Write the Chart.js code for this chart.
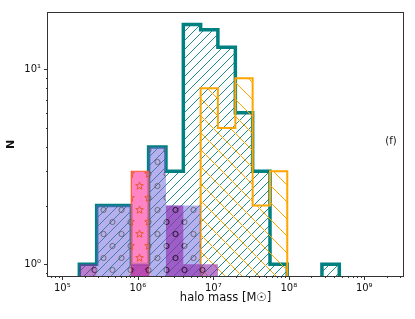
<!DOCTYPE html>
<html>
<head>
<meta charset="utf-8">
<script src="https://cdn.jsdelivr.net/npm/chart.js@4.4.0/dist/chart.umd.min.js"></script>
<style>
html, body { margin: 0; padding: 0; background: #fff; }
</style>
</head>
<body>
<canvas id="histChart" width="415" height="319"></canvas>
<script>
// Data: bin edges (halo mass, Msun) and counts per bin
const binEdges = [1.68e5, 2.85e5, 4.83e5, 8.2e5, 1.39e6, 2.36e6, 4.01e6, 6.8e6, 1.15e7, 1.96e7, 3.32e7, 5.64e7, 9.55e7, 1.62e8, 2.75e8, 4.67e8];
const countsTeal     = [1, 2, 2, 1, 4, 3, 17, 16, 13, 6, 3, 1, 0, 0, 1];
const countsOrange   = [0, 0, 0, 0, 0, 0, 0, 8, 5, 9, 2, 3, 0, 0, 0];
const countsPink     = [0, 0, 0, 3, 0, 0, 0, 0, 0, 0, 0, 0, 0, 0, 0];
const countsLavender = [0, 2, 2, 0, 4, 2, 2, 0, 0, 0, 0, 0, 0, 0, 0];
const countsPurple   = [1, 0, 0, 1, 0, 2, 1, 1, 0, 0, 0, 0, 0, 0, 0];
const xMajorTicks = [1e5, 1e6, 1e7, 1e8, 1e9];
const yMajorTicks = [1, 10];

const floorN = 0.5; // below the axis, used for empty bins

// build step outline points from edges + counts
function stepPoints(edges, counts) {
  const pts = [{x: edges[0], y: floorN}];
  counts.forEach((c, i) => {
    const v = c > 0 ? c : floorN;
    pts.push({x: edges[i], y: v});
    pts.push({x: edges[i + 1], y: v});
  });
  pts.push({x: edges[edges.length - 1], y: floorN});
  return pts;
}

// hatch patterns
function lineHatch(color, step, back, fill) {
  const c = document.createElement('canvas');
  c.width = step; c.height = step;
  const g = c.getContext('2d');
  if (fill) { g.fillStyle = fill; g.fillRect(0, 0, step, step); }
  g.strokeStyle = color; g.lineWidth = 1;
  g.beginPath();
  for (let k = -1; k <= 1; k++) {
    if (back) { g.moveTo(k * step, 0); g.lineTo(k * step + step, step); }
    else { g.moveTo(k * step, step); g.lineTo(k * step + step, 0); }
  }
  g.stroke();
  return g.createPattern(c, 'repeat');
}

function star(g, cx, cy, r) {
  g.beginPath();
  for (let i = 0; i < 10; i++) {
    const rr = i % 2 === 0 ? r : r * 0.42;
    const a = -Math.PI / 2 + i * Math.PI / 5;
    const px = cx + rr * Math.cos(a), py = cy + rr * Math.sin(a);
    if (i === 0) g.moveTo(px, py); else g.lineTo(px, py);
  }
  g.closePath();
  g.stroke();
}

function markHatch(fill, markColor, kind) {
  const w = 18, h = 24;
  const c = document.createElement('canvas');
  c.width = w; c.height = h;
  const g = c.getContext('2d');
  g.fillStyle = fill; g.fillRect(0, 0, w, h);
  g.strokeStyle = markColor; g.lineWidth = 1;
  [[4.5, 6], [13.5, 18]].forEach(([cx, cy]) => {
    if (kind === 'star') star(g, cx, cy, 4);
    else { g.beginPath(); g.arc(cx, cy, 2.6, 0, Math.PI * 2); g.stroke(); }
  });
  return g.createPattern(c, 'repeat');
}

const sup = {'-1': '⁻¹', 0: '⁰', 1: '¹', 4: '⁴', 5: '⁵', 6: '⁶', 7: '⁷', 8: '⁸', 9: '⁹'};
const powLabel = v => '10' + sup[Math.round(Math.log10(v))];

// frame, minor ticks and panel label
const framePlugin = {
  id: 'frame',
  afterDraw(chart) {
    const {ctx, chartArea: a, scales: {x, y}} = chart;
    ctx.save();
    ctx.strokeStyle = '#333';
    ctx.lineWidth = 1;
    ctx.strokeRect(Math.round(a.left) - 0.5, Math.round(a.top) - 0.5,
      Math.round(a.right - a.left) + 1, Math.round(a.bottom - a.top) + 1);
    ctx.beginPath();
    for (let n = 4; n <= 9; n++) {
      for (let k = 1; k <= 9; k++) {
        const v = k * Math.pow(10, n);
        if (v < x.min || v > x.max) continue;
        const px = Math.round(x.getPixelForValue(v)) + 0.5;
        const len = k === 1 ? 4 : 2;
        ctx.moveTo(px, a.bottom); ctx.lineTo(px, a.bottom + len);
      }
    }
    for (let n = -1; n <= 1; n++) {
      for (let k = 1; k <= 9; k++) {
        const v = k * Math.pow(10, n);
        if (v < y.min || v > y.max) continue;
        const py = Math.round(y.getPixelForValue(v)) + 0.5;
        const len = k === 1 ? 4 : 2;
        ctx.moveTo(a.left, py); ctx.lineTo(a.left - len, py);
      }
    }
    ctx.stroke();
    ctx.fillStyle = '#111';
    ctx.font = '10px "DejaVu Sans"';
    ctx.textAlign = 'center';
    ctx.textBaseline = 'middle';
    ctx.fillText('(f)', 391, 141);
    ctx.restore();
  }
};

const teal = '#008080';
const orange = '#ffa500';

const ctx = document.getElementById('histChart').getContext('2d');
const histChart = new Chart(ctx, {
  type: 'line',
  data: {
    datasets: [
      {
        label: 'teal',
        data: stepPoints(binEdges, countsTeal),
        borderColor: teal,
        borderWidth: 3.5,
        backgroundColor: lineHatch('#1f8c8c', 9, false, null),
        fill: 'start',
        order: 6
      },
      {
        label: 'orange',
        data: stepPoints(binEdges, countsOrange),
        borderColor: orange,
        borderWidth: 2,
        backgroundColor: lineHatch(orange, 17, true, null),
        fill: 'start',
        order: 5
      },
      {
        label: 'pink',
        data: stepPoints(binEdges, countsPink),
        borderColor: '#ff5a28',
        borderWidth: 1.2,
        backgroundColor: markHatch('rgba(255,110,185,0.85)', '#e8552e', 'star'),
        fill: 'start',
        order: 4
      },
      {
        label: 'lavender',
        data: stepPoints(binEdges, countsLavender),
        borderColor: 'rgba(0,0,0,0)',
        borderWidth: 0,
        backgroundColor: markHatch('rgba(110,100,220,0.5)', 'rgba(90,90,90,0.8)', 'circle'),
        fill: 'start',
        order: 3
      },
      {
        label: 'purple',
        data: stepPoints(binEdges, countsPurple),
        borderColor: 'rgba(0,0,0,0)',
        borderWidth: 0,
        backgroundColor: markHatch('rgba(140,40,170,0.6)', 'rgba(40,20,40,0.85)', 'circle'),
        fill: 'start',
        order: 2
      }
    ]
  },
  options: {
    responsive: false,
    animation: false,
    devicePixelRatio: 1,
    elements: { point: { radius: 0 }, line: { tension: 0 } },
    datasets: { line: { clip: 0 } },
    layout: { padding: { left: 0, right: 12, top: 11, bottom: 0 } },
    plugins: { legend: { display: false }, tooltip: { enabled: false } },
    scales: {
      x: {
        type: 'logarithmic',
        min: 6.46e4,
        max: 3.26e9,
        grid: { display: false, drawTicks: false },
        border: { display: false },
        afterBuildTicks: s => { s.ticks = xMajorTicks.map(v => ({value: v})); },
        afterFit: s => { s.height = 43; },
        ticks: {
          autoSkip: false,
          maxRotation: 0,
          padding: 6,
          color: '#111',
          font: { family: 'DejaVu Sans', size: 10 },
          callback: v => powLabel(v)
        },
        title: {
          display: true,
          text: 'halo mass [M☉]',
          color: '#111',
          font: { family: 'DejaVu Sans', size: 11.5 },
          padding: { top: 0, bottom: 14 }
        }
      },
      y: {
        type: 'logarithmic',
        min: 0.869,
        max: 19.5,
        grid: { display: false, drawTicks: false },
        border: { display: false },
        afterBuildTicks: s => { s.ticks = yMajorTicks.map(v => ({value: v})); },
        afterFit: s => { s.width = 48; },
        ticks: {
          autoSkip: false,
          padding: 7,
          color: '#111',
          font: { family: 'DejaVu Sans', size: 10 },
          callback: v => powLabel(v)
        },
        title: {
          display: true,
          text: 'N',
          color: '#111',
          font: { family: 'DejaVu Sans', size: 11, weight: 'bold' },
          padding: { top: 5, bottom: 0 }
        }
      }
    }
  },
  plugins: [framePlugin]
});
</script>
</body>
</html>
